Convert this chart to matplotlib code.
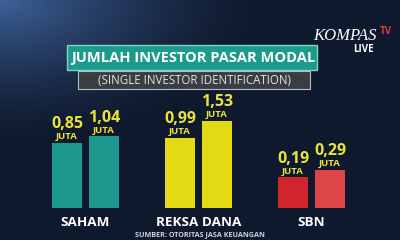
import numpy as np
import matplotlib
matplotlib.use("Agg")
import matplotlib.pyplot as plt
from matplotlib.patches import Rectangle

categories = ["SAHAM", "REKSA DANA", "SBN"]
values_first = [0.85, 0.99, 0.19]
values_second = [1.04, 1.53, 0.29]
unit_label = "JUTA"
title = "JUMLAH INVESTOR PASAR MODAL"
subtitle = "(SINGLE INVESTOR IDENTIFICATION)"
source = "SUMBER: OTORITAS JASA KEUANGAN"

colors_first = ["#1b978d", "#e2da12", "#d2252b"]
colors_second = ["#1b978d", "#e2da12", "#dd4549"]

W, H = 400, 240
fig = plt.figure(figsize=(W / 100, H / 100), dpi=100)

# background
bg = fig.add_axes([0, 0, 1, 1])
bg.set_xlim(0, W)
bg.set_ylim(H, 0)
bg.axis("off")
yy, xx = np.mgrid[0:H, 0:W]
d = np.clip(1 - np.sqrt((xx / 260.0) ** 2 + (yy / 140.0) ** 2), 0, 1)
base = np.array([0.06, 0.10, 0.18])
light = np.array([0.24, 0.38, 0.60])
img = base[None, None, :] + (light - base)[None, None, :] * d[..., None] ** 1.4
bg.imshow(img, extent=(0, W, H, 0), aspect="auto", zorder=0)

fam = ["Open Sans", "DejaVu Sans"]

# title boxes
bg.add_patch(Rectangle((67, 45), 250, 25, facecolor="#1c9a8b", edgecolor="#7fd6c8", lw=1.0, zorder=2))
bg.text(193, 58, title, color="white", fontsize=10.5, fontweight="bold", family=fam,
        ha="center", va="center", zorder=3)
bg.add_patch(Rectangle((78, 71), 232, 18, facecolor="#3a3e44", edgecolor="#b9bcc0", lw=0.8, zorder=2))
bg.text(194, 80.5, subtitle, color="#e4e4e4", fontsize=8.3, family=fam,
        ha="center", va="center", zorder=3)

# logo
bg.text(345, 36, "KOMPAS", color="white", fontsize=12, family=["Liberation Serif"],
        style="italic", ha="center", va="center", zorder=3)
bg.text(386, 31.5, "TV", color="#e23a3a", fontsize=7, fontweight="bold", family=fam,
        ha="center", va="center", zorder=3)
bg.text(363, 49, "LIVE", color="white", fontsize=7, fontweight="bold", family=fam,
        ha="center", va="center", zorder=3)

# bar axes
bottom_px = 32
ax = fig.add_axes([0, bottom_px / H, 1, (H - bottom_px) / H])
ax.patch.set_alpha(0)
ax.axis("off")
px_per_unit = 113.0
ax.set_xlim(-85.5 / px_per_unit, (W - 85.5) / px_per_unit)
ax.set_yscale("function", functions=(lambda v: np.sqrt(np.clip(v, 0, None)), lambda v: np.square(v)))
k = 70.2
ax.set_ylim(0, ((H - bottom_px) / k) ** 2)

x = np.arange(len(categories))
bw = 30 / px_per_unit
off = 18.5 / px_per_unit

b1 = ax.bar(x - off, values_first, width=bw, color=colors_first, zorder=3)
b2 = ax.bar(x + off, values_second, width=bw, color=colors_second, zorder=3)

for xs, vals in ((x - off, values_first), (x + off, values_second)):
    for xi, v in zip(xs, vals):
        ax.annotate(unit_label, (xi, v), xytext=(0, 1.3), textcoords="offset points",
                    ha="center", va="bottom", color="#ece33a", fontsize=6.8,
                    fontweight="bold", family=fam, zorder=4)
        ax.annotate(f"{v:.2f}".replace(".", ","), (xi, v), xytext=(0, 7.8),
                    textcoords="offset points", ha="center", va="bottom",
                    color="#ece33a", fontsize=11.5, fontweight="bold", family=fam, zorder=4)

# category labels
for xi, c in zip(x, categories):
    ax.annotate(c, (xi, 0), xytext=(0, -10.5), textcoords="offset points",
                ha="center", va="center", color="white", fontsize=9.7,
                fontweight="bold", family=fam)

bg.text(200, 234.5, source, color="#cdd1d8", fontsize=5.2, fontweight="bold", family=fam,
        ha="center", va="center", zorder=3)

fig.savefig("out.png", dpi=100)
